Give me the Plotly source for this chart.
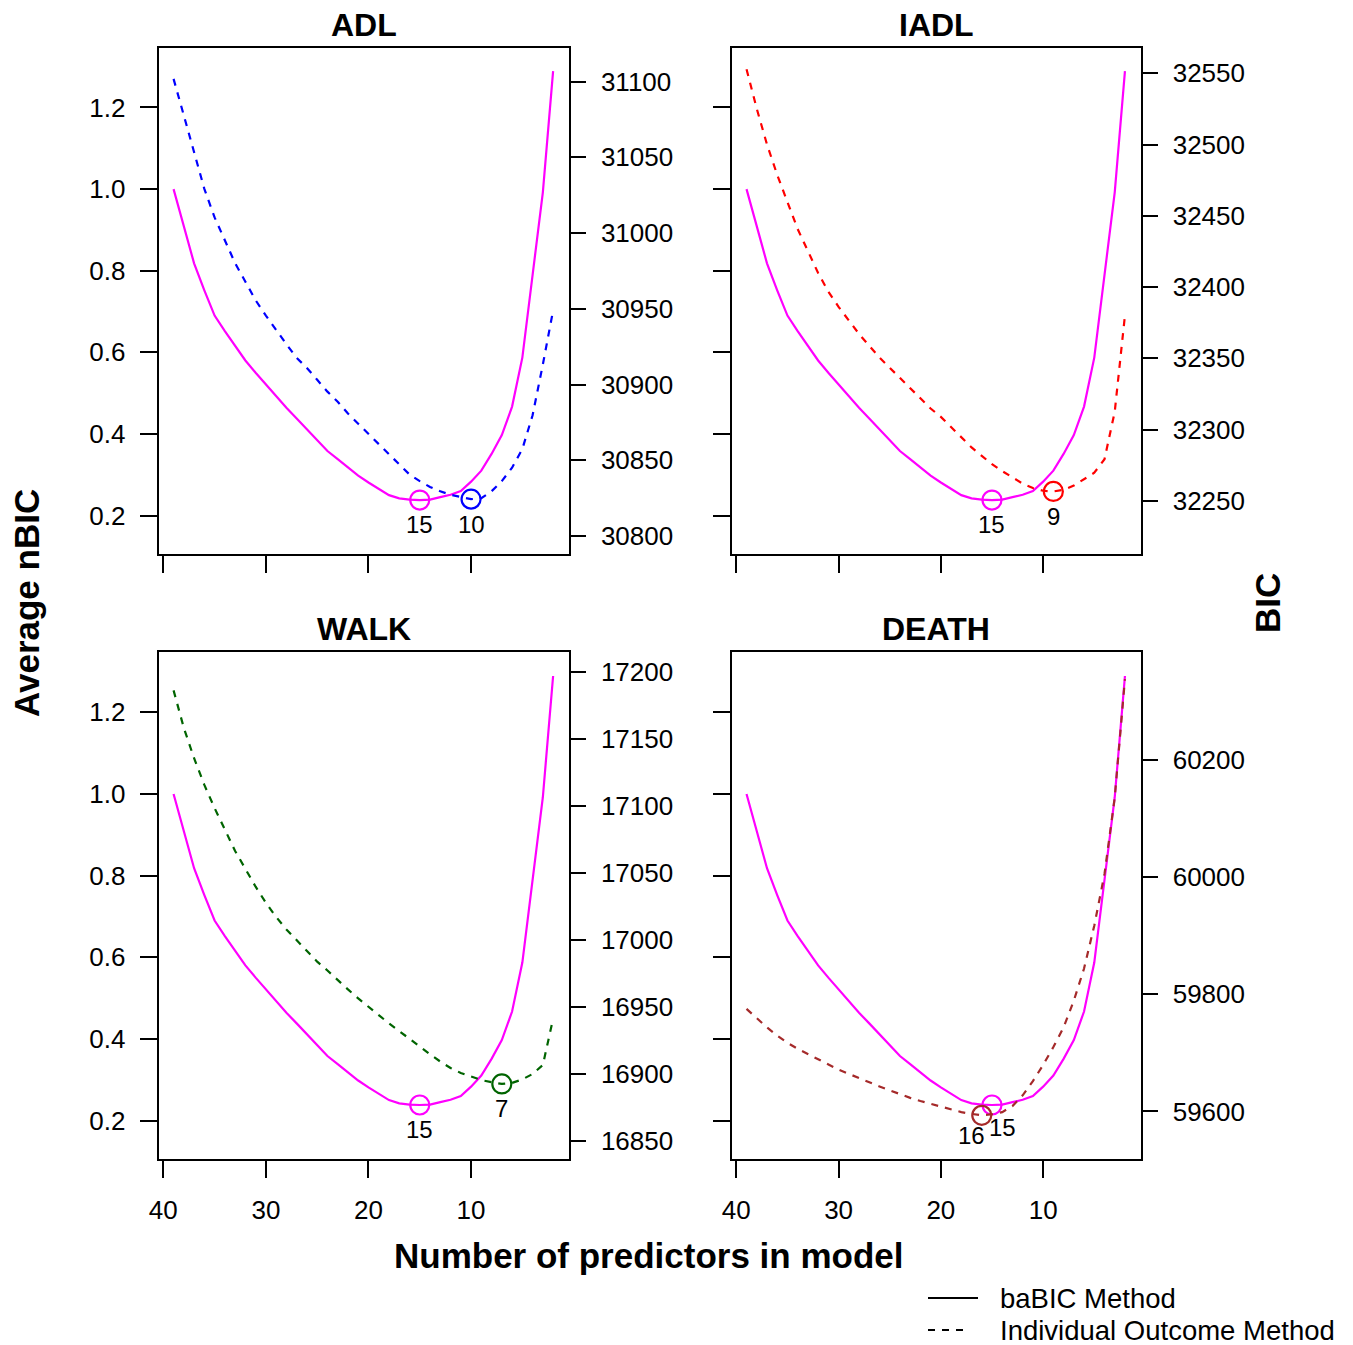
import plotly.graph_objects as go

# ---------------------------------------------------------------- data
n_predictors = list(range(39, 1, -1))  # 39 down to 2

# baBIC: average normalised BIC (left axis, same curve in every panel)
babic_nbic = [1.000, 0.912, 0.818, 0.752, 0.690, 0.652, 0.616, 0.580, 0.550, 0.521,
              0.493, 0.464, 0.438, 0.412, 0.384, 0.358, 0.338, 0.317, 0.298, 0.281,
              0.265, 0.250, 0.242, 0.239, 0.238, 0.239, 0.245, 0.251, 0.260, 0.283,
              0.310, 0.351, 0.397, 0.467, 0.587, 0.785, 0.992, 1.289]
babic_best = 15

# individual-outcome BIC (right axis)
bic_adl = [31101.8, 31077.3, 31053.8, 31029.2, 31010.3, 30994.6, 30980.1, 30967.9, 30955.6, 30945.5,
           30935.9, 30926.6, 30917.6, 30910.9, 30903.1, 30895.3, 30888.6, 30880.8, 30874.1, 30867.4,
           30860.7, 30854.0, 30847.3, 30840.6, 30836.2, 30832.4, 30829.5, 30827.2, 30825.7, 30824.3,
           30825.0, 30829.5, 30836.2, 30845.1, 30857.4, 30879.7, 30913.2, 30948.9]
bic_iadl = [32552.9, 32525.1, 32500.1, 32478.7, 32459.7, 32440.7, 32425.3, 32409.9, 32396.8, 32386.1,
            32376.6, 32367.1, 32358.8, 32350.5, 32343.4, 32336.2, 32329.1, 32322.0, 32314.8, 32308.9,
            32301.8, 32294.7, 32287.5, 32281.6, 32275.7, 32270.9, 32266.2, 32262.1, 32259.0, 32257.1,
            32256.6, 32257.8, 32260.7, 32265.0, 32269.7, 32279.2, 32312.5, 32380.2]
bic_walk = [17186.1, 17158.1, 17135.5, 17115.6, 17098.3, 17082.3, 17066.3, 17053.0, 17039.7, 17027.7,
            17017.1, 17007.8, 16999.8, 16991.8, 16983.8, 16977.2, 16970.0, 16963.1, 16956.4, 16949.8,
            16943.9, 16937.8, 16931.9, 16925.8, 16920.0, 16914.7, 16909.3, 16904.5, 16900.8, 16897.9,
            16895.5, 16893.9, 16892.6, 16893.4, 16896.0, 16900.0, 16906.7, 16941.3]
bic_death = [59774.8, 59758.4, 59743.2, 59729.2, 59717.0, 59706.6, 59697.5, 59688.3, 59679.2, 59671.3,
             59664.0, 59656.7, 59648.7, 59642.6, 59635.9, 59629.2, 59623.1, 59617.7, 59612.8, 59607.3,
             59602.4, 59598.8, 59595.7, 59593.3, 59595.1, 59598.8, 59609.1, 59627.4, 59651.8, 59679.2,
             59709.7, 59743.2, 59788.9, 59843.7, 59916.8, 60005.0, 60135.0, 60337.1]

outcomes = ["ADL", "IADL", "WALK", "DEATH"]
outcome_bic = [bic_adl, bic_iadl, bic_walk, bic_death]
outcome_best = [10, 9, 7, 16]
outcome_colors = ["#0000FF", "#FF0000", "#006400", "#A52A2A"]

nbic_ticks = [0.2, 0.4, 0.6, 0.8, 1.0, 1.2]
x_ticks = [40, 30, 20, 10]
bic_ticks = [
    [30800, 30850, 30900, 30950, 31000, 31050, 31100],
    [32250, 32300, 32350, 32400, 32450, 32500, 32550],
    [16850, 16900, 16950, 17000, 17050, 17100, 17150, 17200],
    [59600, 59800, 60000, 60200],
]
bic_ranges = [
    [30787.9, 31122.5],
    [32212.5, 32568.1],
    [16836.4, 17214.5],
    [59518.3, 60383.0],
]
nbic_range = [0.105, 1.347]
x_range = [40.45, 0.48]

# ---------------------------------------------------------------- layout helpers
W, H = 1353, 1345
FONT = "Liberation Sans, Arial, Helvetica, sans-serif"
BABIC_COLOR = "#FF00FF"
TICK_FONT = 26


def px(x):
    return x / W


def py(y):
    return 1 - y / H


# panel boxes in pixels: (left, right, top, bottom)
boxes = [
    (158.7, 568.7, 47.5, 554.3),
    (731.7, 1140.5, 47.5, 554.3),
    (158.7, 568.7, 652.3, 1159.3),
    (731.7, 1140.5, 652.3, 1159.3),
]

fig = go.Figure()
layout = dict(
    width=W, height=H,
    margin=dict(l=0, r=0, t=0, b=0, autoexpand=False),
    paper_bgcolor="white", plot_bgcolor="white",
    showlegend=False,
    font=dict(family=FONT, size=TICK_FONT, color="black"),
)
annotations = []
shapes = []

for i, name in enumerate(outcomes):
    xa = "x" if i == 0 else f"x{i + 1}"
    yl = "y" if i == 0 else f"y{2 * i + 1}"
    yr = f"y{2 * i + 2}"
    xkey = "xaxis" if i == 0 else f"xaxis{i + 1}"
    ylkey = "yaxis" if i == 0 else f"yaxis{2 * i + 1}"
    yrkey = f"yaxis{2 * i + 2}"
    left, right, top, bottom = boxes[i]
    bottom_row = i >= 2
    left_col = i % 2 == 0

    layout[xkey] = dict(
        domain=[px(left), px(right)], anchor=yl, range=x_range, automargin=False,
        tickvals=x_ticks, ticktext=[str(t) for t in x_ticks],
        showticklabels=bottom_row, ticks="outside", ticklen=17, tickwidth=2,
        tickcolor="black", ticklabelstandoff=9,
        showline=True, linewidth=2, linecolor="black", mirror=True,
        showgrid=False, zeroline=False, tickfont=dict(size=TICK_FONT),
    )
    layout[ylkey] = dict(
        domain=[py(bottom), py(top)], anchor=xa, range=nbic_range, automargin=False,
        tickvals=nbic_ticks, ticktext=[f"{t:.1f}" for t in nbic_ticks],
        showticklabels=left_col, ticks="outside", ticklen=17, tickwidth=2,
        tickcolor="black", ticklabelstandoff=9,
        showline=True, linewidth=2, linecolor="black", mirror=True,
        showgrid=False, zeroline=False, tickfont=dict(size=TICK_FONT),
    )
    layout[yrkey] = dict(
        domain=[py(bottom), py(top)], anchor=xa, overlaying=yl, side="right",
        range=bic_ranges[i], tickvals=bic_ticks[i], automargin=False,
        ticktext=[str(t) for t in bic_ticks[i]],
        ticks="outside", ticklen=16, tickwidth=2, tickcolor="black",
        ticklabelstandoff=10, showline=False, showgrid=False, zeroline=False,
        tickfont=dict(size=TICK_FONT),
    )

    # baBIC curve (left axis)
    fig.add_trace(go.Scatter(
        x=n_predictors, y=babic_nbic, xaxis=xa, yaxis=yl, mode="lines",
        line=dict(color=BABIC_COLOR, width=2.2), hoverinfo="skip",
    ))
    # individual outcome curve (right axis)
    fig.add_trace(go.Scatter(
        x=n_predictors, y=outcome_bic[i], xaxis=xa, yaxis=yr, mode="lines",
        line=dict(color=outcome_colors[i], width=2.2, dash="7px,7px"),
        hoverinfo="skip",
    ))

    # chosen model sizes
    k_ba = n_predictors.index(babic_best)
    k_out = n_predictors.index(outcome_best[i])
    fig.add_trace(go.Scatter(
        x=[babic_best], y=[babic_nbic[k_ba]], xaxis=xa, yaxis=yl, mode="markers",
        marker=dict(symbol="circle-open", size=19, color=BABIC_COLOR,
                    line=dict(width=2.2, color=BABIC_COLOR)),
        hoverinfo="skip",
    ))
    fig.add_trace(go.Scatter(
        x=[outcome_best[i]], y=[outcome_bic[i][k_out]], xaxis=xa, yaxis=yr,
        mode="markers",
        marker=dict(symbol="circle-open", size=19, color=outcome_colors[i],
                    line=dict(width=2.2, color=outcome_colors[i])),
        hoverinfo="skip",
    ))

    if name == "DEATH":
        ba_shift, out_shift = (11, -22), (-10, -20)
    else:
        ba_shift, out_shift = (0, -24), (0, -25)
    annotations.append(dict(
        x=babic_best, y=babic_nbic[k_ba], xref=xa, yref=yl,
        text=str(babic_best), showarrow=False, font=dict(size=24),
        xshift=ba_shift[0], yshift=ba_shift[1], xanchor="center", yanchor="middle",
    ))
    annotations.append(dict(
        x=outcome_best[i], y=outcome_bic[i][k_out], xref=xa, yref=yr,
        text=str(outcome_best[i]), showarrow=False, font=dict(size=24),
        xshift=out_shift[0], yshift=out_shift[1], xanchor="center", yanchor="middle",
    ))

    # panel title
    annotations.append(dict(
        x=px((left + right) / 2), y=py(top - 23), xref="paper", yref="paper",
        text=f"<b>{name}</b>", showarrow=False, font=dict(size=32),
        xanchor="center", yanchor="middle",
    ))

# shared axis titles
annotations += [
    dict(x=px(27), y=py(603), xref="paper", yref="paper", text="<b>Average nBIC</b>",
         textangle=-90, showarrow=False, font=dict(size=35),
         xanchor="center", yanchor="middle"),
    dict(x=px(1268), y=py(603), xref="paper", yref="paper", text="<b>BIC</b>",
         textangle=-90, showarrow=False, font=dict(size=35),
         xanchor="center", yanchor="middle"),
    dict(x=px(649), y=py(1255), xref="paper", yref="paper",
         text="<b>Number of predictors in model</b>", showarrow=False,
         font=dict(size=35), xanchor="center", yanchor="middle"),
]

# legend
legend_items = [("baBIC Method", "solid", 1298, 978), ("Individual Outcome Method", "dash", 1330, 968)]
for label, dash, y, x_end in legend_items:
    shapes.append(dict(
        type="line", xref="paper", yref="paper",
        x0=px(928), x1=px(x_end), y0=py(y), y1=py(y),
        line=dict(color="black", width=2, dash="solid" if dash == "solid" else "7px,7px"),
    ))
    annotations.append(dict(
        x=px(998), y=py(y), xref="paper", yref="paper", text=label,
        showarrow=False, font=dict(size=27.5), xanchor="left", yanchor="middle",
    ))

layout["annotations"] = annotations
layout["shapes"] = shapes
fig.update_layout(**layout)

fig.write_html("out.html")
